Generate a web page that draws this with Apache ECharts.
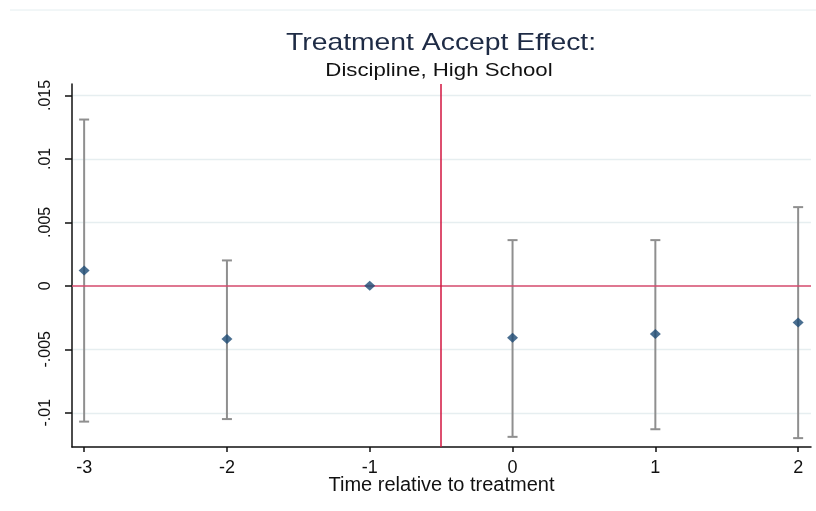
<!DOCTYPE html>
<html>
<head>
<meta charset="utf-8">
<script src="https://cdn.jsdelivr.net/npm/echarts@6/dist/echarts.min.js"></script>
<style>
  html, body { margin: 0; padding: 0; background: #fff; }
  #chart { width: 816px; height: 511px; }
</style>
</head>
<body>
<div id="chart"></div>
<script>
// event-study estimates
var periods = [-3, -2, -1, 0, 1, 2];
var coef    = [0.0012, -0.0042, 0, -0.0041, -0.0038, -0.0029];
var ciLow   = [-0.0107, -0.0105, null, -0.0119, -0.0113, -0.0120];
var ciHigh  = [0.0131, 0.0020, null, 0.0036, 0.0036, 0.0062];

var yTicks = [-0.01, -0.005, 0, 0.005, 0.01, 0.015];
var xTicks = [-3, -2, -1, 0, 1, 2];

function stataNum(v) {
  if (v === 0) return '0';
  var s = String(+v.toFixed(4));
  return s.replace(/^(-?)0\./, '$1.');
}

var chart = echarts.init(document.getElementById('chart'));

var points = periods.map(function (p, i) { return [p, coef[i]]; });
var bars = [];
periods.forEach(function (p, i) {
  if (ciLow[i] != null) bars.push([p, ciLow[i], ciHigh[i]]);
});
var gridVals = yTicks.filter(function (v) { return v !== 0; }).map(function (v) { return [0, v]; });

var font = '"Liberation Sans", Arial, sans-serif';

var option = {
  backgroundColor: '#fff',
  animation: false,
  graphic: [{
    type: 'line',
    shape: { x1: 10, y1: 10, x2: 816, y2: 10 },
    style: { stroke: '#e4eef0', lineWidth: 1 }
  }, {
    type: 'text',
    x: 441, y: 43, scaleX: 1.18,
    style: {
      text: 'Treatment Accept Effect:', x: 0, y: 0,
      align: 'center', verticalAlign: 'middle',
      font: '24px ' + font, fill: '#1e2b45'
    }
  }, {
    type: 'text',
    x: 439, y: 71, scaleX: 1.17,
    style: {
      text: 'Discipline, High School', x: 0, y: 0,
      align: 'center', verticalAlign: 'middle',
      font: '19px ' + font, fill: '#111'
    }
  }],
  grid: { left: 72, right: 5, top: 84, bottom: 64 },
  xAxis: {
    type: 'value',
    min: -3.085, max: 2.09,
    name: 'Time relative to treatment',
    nameLocation: 'middle', nameGap: 28,
    nameMoveOverlap: false,
    nameTextStyle: { fontFamily: font, fontSize: 20, color: '#111' },
    axisLine: { show: true, onZero: false, lineStyle: { color: '#111', width: 1.5 } },
    axisTick: { show: true, length: 5, customValues: xTicks, lineStyle: { color: '#111', width: 1.5 } },
    axisLabel: {
      customValues: xTicks, margin: 12,
      fontFamily: font, fontSize: 18, color: '#111',
      formatter: function (v) { return String(v); }
    },
    splitLine: { show: false }
  },
  yAxis: {
    type: 'value',
    min: -0.0127, max: 0.0159,
    axisLine: { show: true, onZero: false, lineStyle: { color: '#111', width: 1.5 } },
    axisTick: { show: true, length: 7, customValues: yTicks, lineStyle: { color: '#111', width: 1.5 } },
    axisLabel: {
      customValues: yTicks, rotate: 90, margin: 18,
      fontFamily: font, fontSize: 16, color: '#111',
      formatter: stataNum
    },
    splitLine: { show: false }
  },
  series: [{
    // light horizontal grid lines at the y ticks
    name: 'grid',
    type: 'custom',
    data: gridVals,
    silent: true,
    z: 1,
    renderItem: function (params, api) {
      var cs = params.coordSys;
      var p = api.coord([0, api.value(1)]);
      var y = Math.round(p[1]) + 0.5;
      return {
        type: 'line',
        shape: { x1: cs.x + 1, y1: y, x2: cs.x + cs.width, y2: y },
        style: { stroke: '#e6eef0', lineWidth: 1.5 }
      };
    }
  }, {
    name: 'ci',
    type: 'custom',
    data: bars,
    z: 3,
    renderItem: function (params, api) {
      var x = api.value(0);
      var lo = api.coord([x, api.value(1)]);
      var hi = api.coord([x, api.value(2)]);
      var cap = 5;
      var st = { stroke: '#8f8f8f', lineWidth: 2 };
      return {
        type: 'group',
        children: [
          { type: 'line', shape: { x1: lo[0], y1: lo[1], x2: hi[0], y2: hi[1] }, style: st },
          { type: 'line', shape: { x1: hi[0] - cap, y1: hi[1], x2: hi[0] + cap, y2: hi[1] }, style: st },
          { type: 'line', shape: { x1: lo[0] - cap, y1: lo[1], x2: lo[0] + cap, y2: lo[1] }, style: st }
        ]
      };
    }
  }, {
    name: 'ref',
    type: 'line',
    data: [],
    z: 2,
    markLine: {
      symbol: 'none', silent: true, label: { show: false },
      data: [
        { yAxis: 0, lineStyle: { color: '#d44a6c', width: 1.5, type: 'solid' } },
        { xAxis: -0.5, lineStyle: { color: '#d2143f', width: 1.5, type: 'solid' } }
      ]
    }
  }, {
    name: 'coef',
    type: 'scatter',
    data: points,
    z: 5,
    symbol: 'diamond',
    symbolSize: [11, 10],
    itemStyle: { color: '#1b4a74' }
  }]
};

chart.setOption(option);
</script>
</body>
</html>
